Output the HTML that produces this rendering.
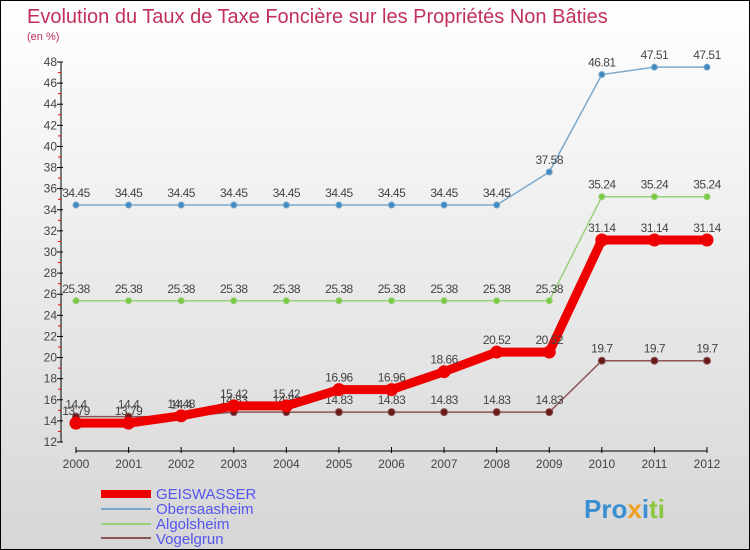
<!DOCTYPE html>
<html><head><meta charset="utf-8"><style>
body{margin:0}
#c{width:750px;height:550px;position:relative;box-sizing:border-box;border:1px solid #000;background:linear-gradient(#fff,#d6d6d6);font-family:"Liberation Sans",sans-serif;overflow:hidden}
svg text{font-family:"Liberation Sans",sans-serif}
</style></head><body>
<div id="c">
<svg id="s" width="750" height="550" xmlns="http://www.w3.org/2000/svg">
<text x="26" y="22" font-size="20" fill="#c0305a">Evolution du Taux de Taxe Foncière sur les Propriétés Non Bâties</text>
<text x="26" y="39" font-size="11" fill="#c0305a">(en %)</text>
<g id="axes"></g><g id="series"></g>
<g>
<rect x="100" y="489" width="50" height="8" fill="#e00"/>
<text x="155" y="498" font-size="15" fill="#5555ee">GEISWASSER</text>
<line x1="100" y1="508" x2="150" y2="508" stroke="#7aa8cc" stroke-width="2"/>
<text x="155" y="513" font-size="15" fill="#5555ee">Obersaasheim</text>
<line x1="100" y1="523" x2="150" y2="523" stroke="#99d17a" stroke-width="2"/>
<text x="155" y="528" font-size="15" fill="#5555ee">Algolsheim</text>
<line x1="100" y1="537" x2="150" y2="537" stroke="#8b5555" stroke-width="2"/>
<text x="155" y="543" font-size="15" fill="#5555ee">Vogelgrun</text>
</g>
<text x="583" y="517" font-size="26" font-weight="bold"><tspan fill="#3a8fd0">Pro</tspan><tspan fill="#f0a020">x</tspan><tspan fill="#3a8fd0">i</tspan><tspan fill="#8cc63f">ti</tspan></text>
</svg></div>
<script>
const years=[2000,2001,2002,2003,2004,2005,2006,2007,2008,2009,2010,2011,2012];
const geiswasser=[13.79,13.79,14.48,15.42,15.42,16.96,16.96,18.66,20.52,20.52,31.14,31.14,31.14];
const obersaasheim=[34.45,34.45,34.45,34.45,34.45,34.45,34.45,34.45,34.45,37.58,46.81,47.51,47.51];
const algolsheim=[25.38,25.38,25.38,25.38,25.38,25.38,25.38,25.38,25.38,25.38,35.24,35.24,35.24];
const vogelgrun=[14.4,14.4,14.4,14.83,14.83,14.83,14.83,14.83,14.83,14.83,19.7,19.7,19.7];
const yTicks=[12,14,16,18,20,22,24,26,28,30,32,34,36,38,40,42,44,46,48];
const NS="http://www.w3.org/2000/svg";
const x=i=>75+i*(706-75)/(years.length-1);
const y=v=>441-(v-12)*(441-61)/36;
function mk(t,a,p){const e=document.createElementNS(NS,t);for(const k in a)e.setAttribute(k,a[k]);p.appendChild(e);return e;}
const ax=document.getElementById('axes');
const yl=mk('line',{x1:60,y1:61,x2:60,y2:441,stroke:'#000'},ax);


const xl=mk('line',{x1:75,y1:450,x2:706,y2:450,stroke:'#000'},ax);


yTicks.forEach(v=>{mk('line',{x1:56,y1:y(v),x2:62,y2:y(v),stroke:'#000'},ax);
 if(v<48)mk('line',{x1:57,y1:y(v+1),x2:60,y2:y(v+1),stroke:'#e00'},ax);
 const t=mk('text',{x:56,y:y(v)+4,'font-size':12,fill:'#444','text-anchor':'end'},ax);t.textContent=v;
 
 });
years.forEach((yr,i)=>{mk('line',{x1:x(i),y1:446,x2:x(i),y2:452,stroke:'#000'},ax);
 const t=mk('text',{x:x(i),y:467,'font-size':12,fill:'#444','text-anchor':'middle'},ax);t.textContent=yr;
 
 });
const sg=document.getElementById('series');
function draw(name,data,color,w,r,dot){
 const g=mk('g',{},sg);
 
 
 mk('polyline',{points:data.map((v,i)=>x(i)+','+y(v)).join(' '),fill:'none',stroke:color,'stroke-width':w,'stroke-linejoin':'round'},g);
 data.forEach((v,i)=>{const c=mk('circle',{cx:x(i),cy:y(v),r:r,fill:dot,stroke:color,'stroke-width':1},g);
  
  
  const t=mk('text',{x:x(i),y:y(v)-8,'font-size':12,fill:'#444','text-anchor':'middle','letter-spacing':'-0.5'},g);t.textContent=v;});
}
draw('obersaasheim',obersaasheim,'#7aa8cc',1.5,3,'#3f8ac4');
draw('algolsheim',algolsheim,'#99d17a',1.5,3,'#7ac943');
draw('vogelgrun',vogelgrun,'#8b5555',1.5,3.5,'#6b1a1a');
draw('geiswasser',geiswasser,'#ee0000',9,6,'#ee0000');
</script>
</body></html>
